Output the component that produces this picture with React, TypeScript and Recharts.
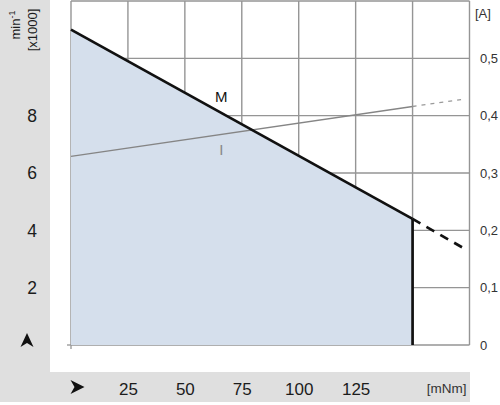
import React from 'react';
import {
  ComposedChart,
  Line,
  Area,
  XAxis,
  YAxis,
  CartesianGrid,
  ReferenceDot,
} from 'recharts';

// ---- data ----
const torque = [0, 150];
const speed = [11.0, 4.4];
const torqueExt = [150, 173];
const speedExt = [4.4, 3.35];
const current = [0.329, 0.416];
const currentExt = [0.416, 0.429];
const limitTorque = [150, 150];
const limitSpeed = [0, 4.4];

const xTicks = [0, 25, 50, 75, 100, 125, 150, 175];
const xTickLabels = ['', '25', '50', '75', '100', '125', '', '[mNm]'];
const speedTicks = [0, 2, 4, 6, 8, 10, 12];
const speedTickLabels = ['', '2', '4', '6', '8', '', ''];
const currentTicks = [0, 0.1, 0.2, 0.3, 0.4, 0.5, 0.6];
const currentTickLabels = ['0', '0,1', '0,2', '0,3', '0,4', '0,5', ''];

const labelM = { x: 66, y: 8.65, text: 'M' };
const labelI = { x: 66, y: 6.8, text: 'I' };

const mainData = torque.map((x, i) => ({ x, m: speed[i], i: current[i] }));
const extData = torqueExt.map((x, i) => ({ x, m: speedExt[i], i: currentExt[i] }));
const limitData = limitTorque.map((x, i) => ({ x, m: limitSpeed[i] }));

const FONT = '"Liberation Sans", Arial, Helvetica, sans-serif';
const TEXT = '#1c1c1c';
const GRID = '#959595';
const BAND = '#dfdfdf';

const W = 500;
const H = 405;

const LeftTick = (props: any) => {
  const { y, index } = props;
  const label = speedTickLabels[index];
  if (index === 0) {
    return (
      <g>
        <line x1={67} y1={y} x2={71} y2={y} stroke={GRID} strokeWidth={1.3} />
        <path d={`M27,${y - 12} L33.5,${y + 2} L27,${y - 2} L20.5,${y + 2} Z`} fill="#111" />
      </g>
    );
  }
  return (
    <text x={32} y={y + 6.2} textAnchor="middle" fontSize={17.5} fontFamily={FONT} fill={TEXT}>
      {label}
    </text>
  );
};

const RightTick = (props: any) => {
  const { y, index } = props;
  return (
    <text x={480} y={y + 4.5} textAnchor="start" fontSize={13} fontFamily={FONT} fill="#333">
      {currentTickLabels[index]}
    </text>
  );
};

const BottomTick = (props: any) => {
  const { x, index } = props;
  const label = xTickLabels[index];
  if (index === 0) {
    return (
      <g>
        <line x1={x} y1={345} x2={x} y2={349} stroke={GRID} strokeWidth={1.3} />
        <path d={`M${x - 0.5},380 L${x + 13.5},387 L${x - 0.5},394 L${x + 3.5},387 Z`} fill="#111" />
      </g>
    );
  }
  if (index === xTicks.length - 1) {
    return (
      <text x={x - 3} y={392.5} textAnchor="end" fontSize={13.5} fontFamily={FONT} fill="#333">
        {label}
      </text>
    );
  }
  return (
    <text x={x + 0.5} y={394.5} textAnchor="middle" fontSize={17} fontFamily={FONT} fill={TEXT}>
      {label}
    </text>
  );
};

export default function App() {
  return (
    <div style={{ position: 'absolute', left: 0, top: 0, width: W, height: H, background: '#fff' }}>
      <div style={{ position: 'absolute', left: 0, top: 0, width: 50, height: 402, background: BAND }} />
      <div style={{ position: 'absolute', left: 0, top: 372, width: 470, height: 30, background: BAND }} />
      <div style={{ position: 'absolute', left: 0, top: 0 }}>
        <ComposedChart width={W} height={H} margin={{ top: 1, right: 0, bottom: 0, left: 0 }}>
          <XAxis
            dataKey="x"
            type="number"
            domain={[0, 175]}
            ticks={xTicks}
            interval={0}
            height={60}
            axisLine={false}
            tickLine={false}
            tick={<BottomTick />}
          />
          <YAxis
            yAxisId="speed"
            orientation="left"
            type="number"
            domain={[0, 12]}
            ticks={speedTicks}
            interval={0}
            width={71}
            axisLine={false}
            tickLine={false}
            tick={<LeftTick />}
          />
          <YAxis
            yAxisId="current"
            orientation="right"
            type="number"
            domain={[0, 0.6]}
            ticks={currentTicks}
            interval={0}
            width={30.5}
            axisLine={false}
            tickLine={false}
            tick={<RightTick />}
          />
          <Area
            yAxisId="speed"
            data={mainData}
            dataKey="m"
            type="linear"
            stroke="none"
            fill="#d5dfec"
            fillOpacity={1}
            isAnimationActive={false}
          />
          <CartesianGrid yAxisId="speed" stroke={GRID} strokeWidth={1.4} />
          <Line
            yAxisId="current"
            data={mainData}
            dataKey="i"
            type="linear"
            stroke="#858585"
            strokeWidth={1.3}
            dot={false}
            isAnimationActive={false}
          />
          <Line
            yAxisId="current"
            data={extData}
            dataKey="i"
            type="linear"
            stroke="#9a9a9a"
            strokeWidth={1.3}
            strokeDasharray="4 5"
            dot={false}
            isAnimationActive={false}
          />
          <Line
            yAxisId="speed"
            data={mainData}
            dataKey="m"
            type="linear"
            stroke="#111"
            strokeWidth={2.7}
            dot={false}
            isAnimationActive={false}
          />
          <Line
            yAxisId="speed"
            data={extData}
            dataKey="m"
            type="linear"
            stroke="#111"
            strokeWidth={2.7}
            strokeDasharray="9 7"
            dot={false}
            isAnimationActive={false}
          />
          <Line
            yAxisId="speed"
            data={limitData}
            dataKey="m"
            type="linear"
            stroke="#111"
            strokeWidth={2.7}
            dot={false}
            isAnimationActive={false}
          />
          <ReferenceDot
            yAxisId="speed"
            x={labelM.x}
            y={labelM.y}
            r={0}
            fill="none"
            stroke="none"
            label={{ value: labelM.text, position: 'center', fontSize: 15, fontFamily: FONT, fill: '#111' }}
          />
          <ReferenceDot
            yAxisId="speed"
            x={labelI.x}
            y={labelI.y}
            r={0}
            fill="none"
            stroke="none"
            label={{ value: labelI.text, position: 'center', fontSize: 15, fontFamily: FONT, fill: '#888' }}
          />
          <text
            transform="translate(20,25) rotate(-90)"
            textAnchor="middle"
            fontSize={13}
            fontFamily={FONT}
            fill={TEXT}
          >
            min
            <tspan dy={-5} fontSize={9}>-1</tspan>
          </text>
          <text
            transform="translate(37,30) rotate(-90)"
            textAnchor="middle"
            fontSize={13}
            fontFamily={FONT}
            fill={TEXT}
          >
            [x1000]
          </text>
          <text x={475} y={18} fontSize={13} fontFamily={FONT} fill="#333">
            [A]
          </text>
        </ComposedChart>
      </div>
    </div>
  );
}
